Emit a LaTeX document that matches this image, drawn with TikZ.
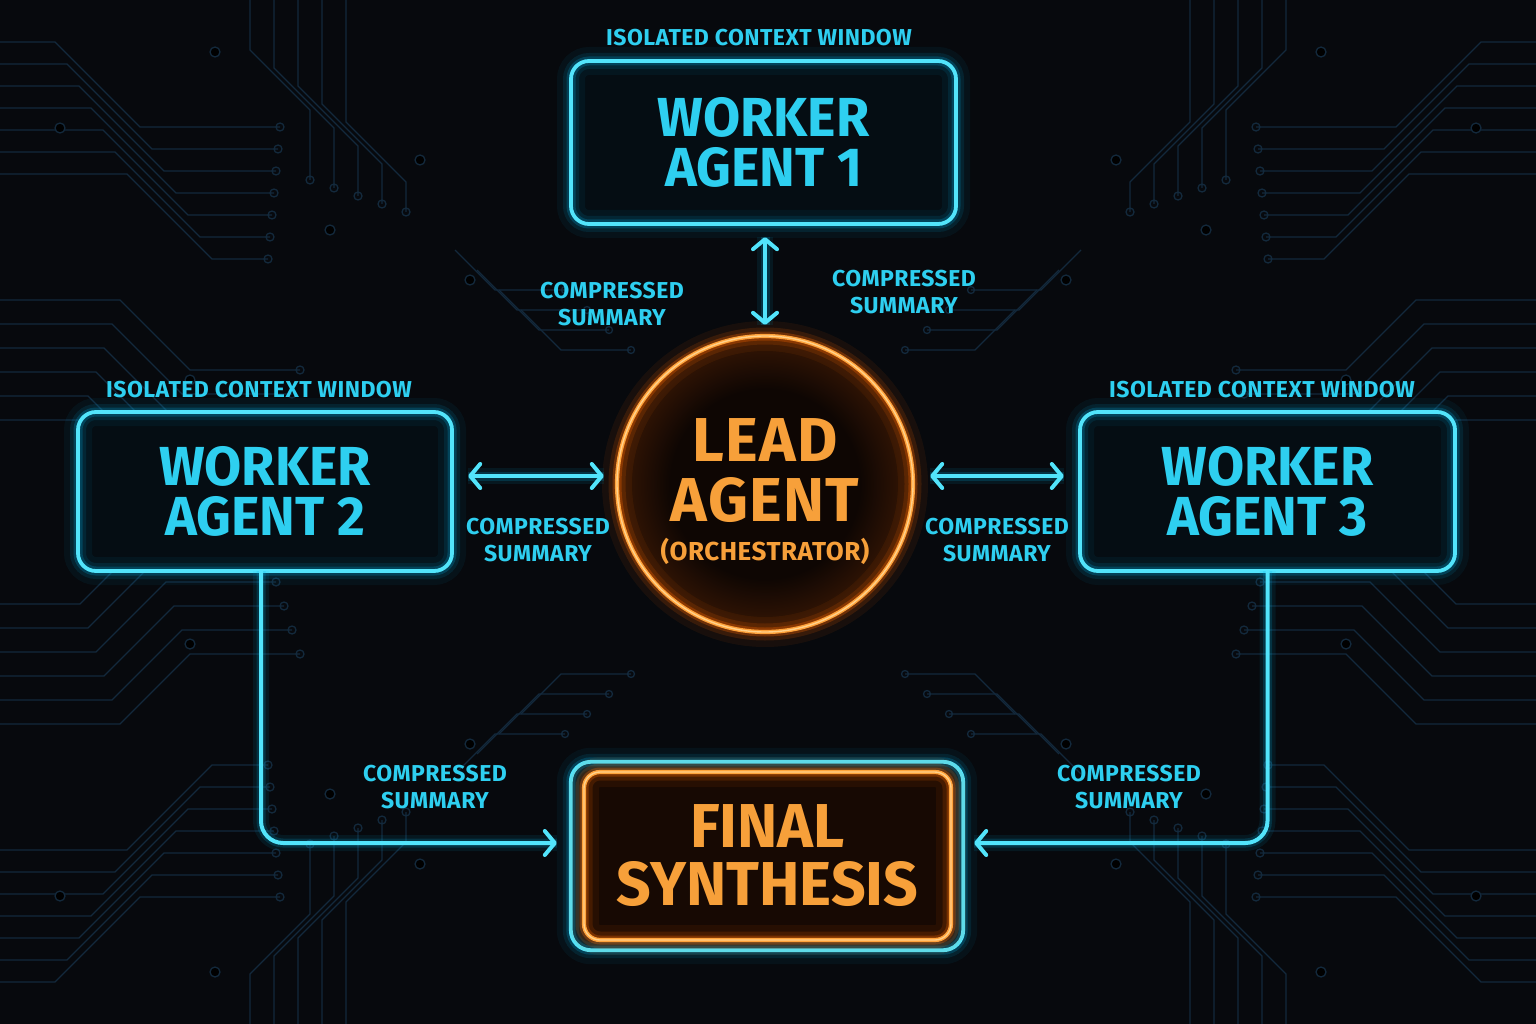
\documentclass[tikz,border=0pt]{standalone}
\usepackage{fontspec}
\newfontfamily\hd[FakeStretch=0.98]{Fira Sans}
\newfontfamily\hdw[LetterSpace=2]{Fira Sans}
\newfontfamily\sm[LetterSpace=2]{Fira Sans}
\usetikzlibrary{arrows.meta,calc}
\definecolor{bg}{HTML}{07090D}
\definecolor{trc}{HTML}{13293C}
\definecolor{cy}{HTML}{52E4FB}
\definecolor{cyg}{HTML}{00B0E6}
\definecolor{cyt}{HTML}{2ECFF0}
\definecolor{og}{HTML}{FFA23A}
\definecolor{ogl}{HTML}{FFD18A}
\definecolor{ogg}{HTML}{FF6A00}
\definecolor{ogt}{HTML}{F7A03A}
\definecolor{boxfill}{HTML}{050D13}
\definecolor{fbfill}{HTML}{170903}
\definecolor{cA}{HTML}{0E0603}
\definecolor{cB}{HTML}{381705}
\pgfdeclareradialshading{leadglow}{\pgfpoint{0bp}{0bp}}{color(0bp)=(cA); color(16bp)=(cA); color(25bp)=(cB); color(50bp)=(cB)}
\pgfdeclarelayer{bgl}\pgfdeclarelayer{mid}
\pgfsetlayers{bgl,mid,main}
\tikzset{
  trc/.style={draw=trc,line width=1.3pt},
  cyglow/.style={postaction={draw=cyg,line width=28pt,opacity=0.06},
                 postaction={draw=cyg,line width=16pt,opacity=0.11},
                 postaction={draw=cyg,line width=9pt,opacity=0.22},
                 postaction={draw=cy,line width=3.8pt}},
  ogglow/.style={postaction={draw=ogg,line width=30pt,opacity=0.07},
                 postaction={draw=ogg,line width=17pt,opacity=0.14},
                 postaction={draw=ogg,line width=9pt,opacity=0.28},
                 postaction={draw=og,line width=4.2pt},
                 postaction={draw=ogl,line width=1.4pt}},
  wbox/.style={rectangle,rounded corners=18pt,fill=boxfill,cyglow,inner sep=0pt,
               text=cyt,align=center,font=\hd\bfseries\fontsize{55}{50}\selectfont},
  lbl/.style={text=cyt,align=center,inner sep=0pt,font=\sm\bfseries\fontsize{23}{27}\selectfont},
  arr/.style={draw=cy,line width=4pt,line cap=round,line join=round,
              >={Straight Barb[length=10pt,width=24pt,line cap=round,line join=round]},
              preaction={draw=cyg,line width=16pt,opacity=0.09,-},
              preaction={draw=cyg,line width=9pt,opacity=0.18,-}},
}
\newcommand\tracesq{%
  \foreach \i in {0,...,6}{\draw[trc] (0,{42+22*\i}) -- ({55+12*\i},{42+22*\i}) -- ++(85,85) -- ++({140-14*\i},0) circle (4);}
  \foreach \i in {0,...,4}{\draw[trc] ({250+24*\i},0) -- ++(0,{50+18*\i}) -- ++(60,60) -- ++(0,{70-10*\i}) circle (4);}
  \foreach \i in {0,...,5}{\draw[trc] (0,{300+24*\i}) -- ({120-8*\i},{300+24*\i}) -- ++(70,70) -- ++(110,0) circle (4);}
  \foreach \i in {0,...,3}{\draw[trc] ({455+22*\i},{250+20*\i}) -- ++(40,40) -- ++(70,0) circle (3.5);}
  \foreach \x/\y in {60/128,215/52,330/230,190/380,420/160,470/280}{\fill[trc] (\x,\y) circle (5);}
}
\begin{document}
\begin{tikzpicture}[x=1pt,y=-1pt]
\useasboundingbox (0,0) rectangle (1536,1024);
\begin{pgfonlayer}{bgl}
\fill[bg] (0,0) rectangle (1536,1024);
\tracesq
\begin{scope}[shift={(1536,0)},xscale=-1]\tracesq\end{scope}
\begin{scope}[shift={(0,1024)},yscale=-1]\tracesq\end{scope}
\begin{scope}[shift={(1536,1024)},xscale=-1,yscale=-1]\tracesq\end{scope}
\end{pgfonlayer}

% worker boxes
\node[wbox,minimum width=385pt,minimum height=163pt] (w1) at (763.5,142.5) {WORKER\\AGENT 1};
\node[wbox,minimum width=374pt,minimum height=159pt] (w2) at (265,491.5) {WORKER\\AGENT 2};
\node[wbox,minimum width=375pt,minimum height=159pt] (w3) at (1267.5,491.5) {WORKER\\AGENT 3};

% lead circle
\node[circle,minimum size=296pt,inner sep=0pt,shading=leadglow,ogglow] (lead) at (765,484) {};
\node[text=ogt,align=center,inner sep=0pt,font=\hdw\bfseries\fontsize{62}{60}\selectfont] (leadt) at (765,491.5)
  {LEAD\\AGENT\\[-21pt]{\fontsize{26}{30}\selectfont (ORCHESTRATOR)}};

% final synthesis
\node[rectangle,rounded corners=16pt,minimum width=367pt,minimum height=168pt,inner sep=0pt,
      fill=fbfill,ogglow,text=ogt,align=center,font=\hd\bfseries\fontsize{62}{58}\selectfont] (final) at (767.5,856) {FINAL\\SYNTHESIS};
\begin{pgfonlayer}{mid}
\draw[rounded corners=20pt,fill=boxfill,cyglow] ([xshift=-13pt,yshift=10pt]final.north west) rectangle ([xshift=12pt,yshift=-10pt]final.south east);
\end{pgfonlayer}

% labels
\node[lbl] (iso1) at (759,38) {ISOLATED CONTEXT WINDOW};
\node[lbl] (iso2) at (259,390) {ISOLATED CONTEXT WINDOW};
\node[lbl] (iso3) at (1262,390) {ISOLATED CONTEXT WINDOW};
\node[lbl] (cs1) at (612,304.5) {COMPRESSED\\SUMMARY};
\node[lbl] (cs2) at (904,292) {COMPRESSED\\SUMMARY};
\node[lbl] (cs3) at (538,540) {COMPRESSED\\SUMMARY};
\node[lbl] (cs4) at (997,540) {COMPRESSED\\SUMMARY};
\node[lbl] (cs5) at (435,787) {COMPRESSED\\SUMMARY};
\node[lbl] (cs6) at (1129,787) {COMPRESSED\\SUMMARY};

% connectors
\draw[arr,<->] ([xshift=1.5pt,yshift=-13pt]w1.south) -- ([yshift=11pt]lead.north);
\draw[arr,<->] ([xshift=16pt,yshift=15.5pt]w2.east) -- ([xshift=-13pt,yshift=8pt]lead.west);
\draw[arr,<->] ([xshift=17pt,yshift=8pt]lead.east) -- ([xshift=-16pt,yshift=15.5pt]w3.west);
\coordinate (fl) at ([xshift=-27pt,yshift=13pt]final.west);
\coordinate (fr) at ([xshift=23pt,yshift=13pt]final.east);
\draw[arr,->,rounded corners=22pt] ([xshift=-4pt]w2.south) |- (fl);
\draw[arr,->,rounded corners=22pt] (w3.south) |- (fr);
\end{tikzpicture}
\end{document}
